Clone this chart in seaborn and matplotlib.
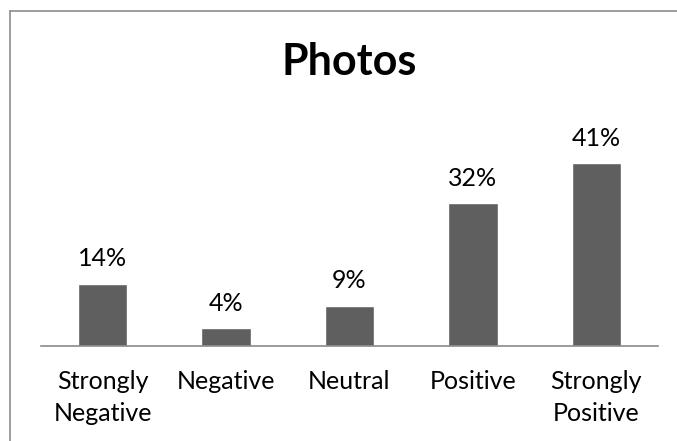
import matplotlib
matplotlib.use("Agg")
import matplotlib.pyplot as plt
import matplotlib.lines as mlines
import seaborn as sns
import pandas as pd

categories = ["Strongly\nNegative", "Negative", "Neutral", "Positive", "Strongly\nPositive"]
values = [14, 4, 9, 32, 41]
labels = ["14%", "4%", "9%", "32%", "41%"]

sns.set_theme(style="white")
plt.rcParams["font.family"] = ["Lato", "DejaVu Sans"]

W, H = 677, 441
fig = plt.figure(figsize=(W / 100, H / 100), dpi=100)
fig.patch.set_facecolor("white")
fig.patch.set_linewidth(0)

# chart frame: left and top edges
frame_color = "#8c8c8c"
fx, fy = 9.5 / W, 1 - 10.5 / H
fig.add_artist(mlines.Line2D([fx, fx], [0, fy], transform=fig.transFigure,
                             color=frame_color, linewidth=1.2))
fig.add_artist(mlines.Line2D([fx, 1.05], [fy, fy], transform=fig.transFigure,
                             color=frame_color, linewidth=1.2))

ymax = 45
px_per_unit = 183 / 41
ax_bottom = 346
ax_h = ymax * px_per_unit
ax = fig.add_axes([41 / W, 1 - ax_bottom / H, 617 / W, ax_h / H])

df = pd.DataFrame({"category": categories, "value": values})
sns.barplot(data=df, x="category", y="value", ax=ax, color="#5f5f5f",
            saturation=1, width=0.4)

ax.set_xlim(-0.5, 4.5)
ax.set_ylim(0, ymax)
for s in ["top", "right", "left"]:
    ax.spines[s].set_visible(False)
ax.spines["bottom"].set_color("#8a8a8a")
ax.spines["bottom"].set_linewidth(1.2)
ax.set_yticks([])
ax.set_xlabel("")
ax.set_ylabel("")
ax.tick_params(axis="x", length=0, pad=17, labelsize=18, colors="black")
for t in ax.get_xticklabels():
    t.set_linespacing(1.5)
ax.set_facecolor("none")

for i, (v, lab) in enumerate(zip(values, labels)):
    ax.annotate(lab, (i, v), xytext=(0, 18), textcoords="offset points",
                ha="center", va="center", fontsize=18, color="black")

fig.text(349 / W, 1 - 62 / H, "Photos", ha="center", va="center",
         fontsize=31, fontweight="bold", color="black")

fig.savefig("out.png", dpi=100, facecolor="white")
